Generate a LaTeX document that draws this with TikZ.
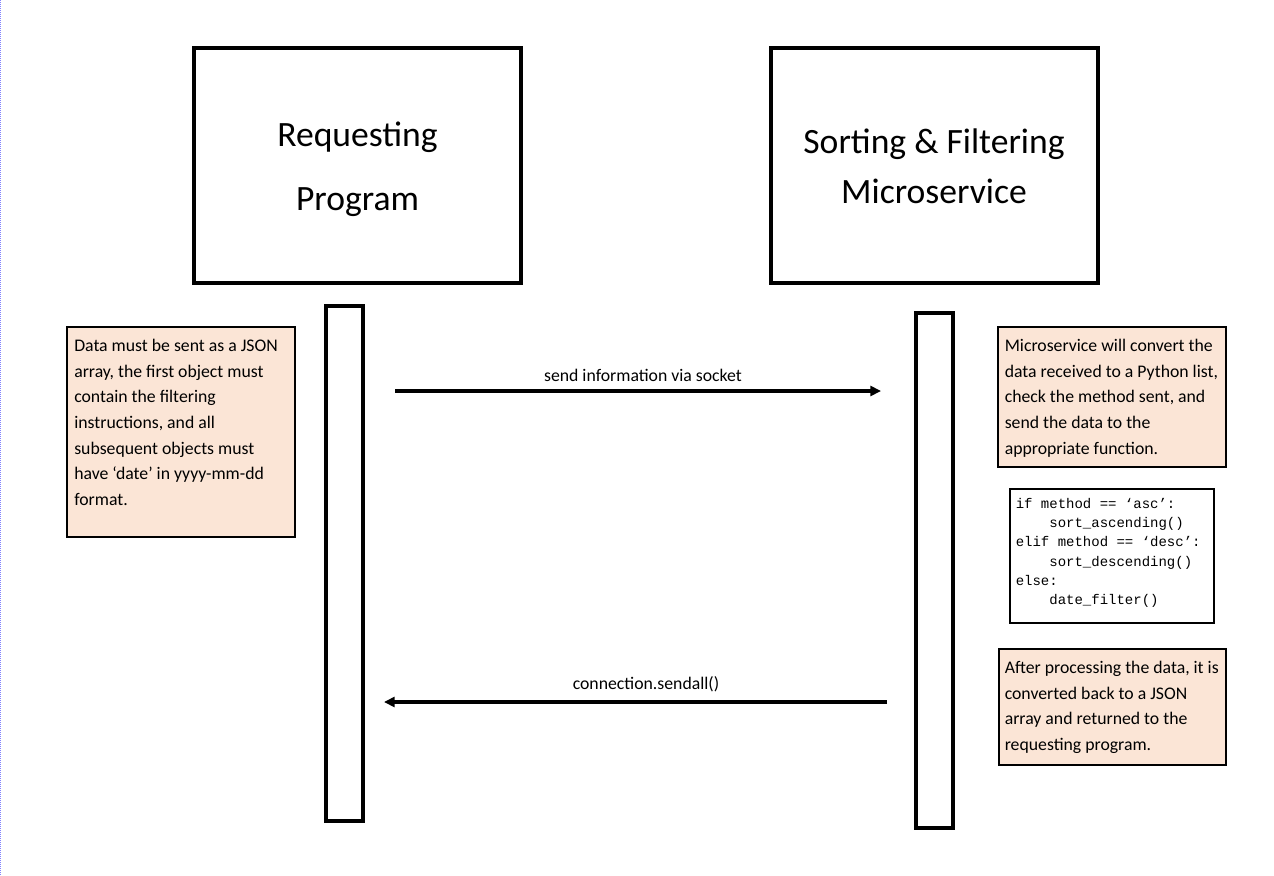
\documentclass[tikz,border=0pt]{standalone}
\usepackage{fontspec}
\setmainfont{Carlito}
\newfontfamily\codefont{Liberation Mono}
\usetikzlibrary{arrows.meta,fit}
\definecolor{notefill}{HTML}{FBE5D6}
\definecolor{edgeblue}{RGB}{130,130,255}
\newcommand\fl[1]{\rule{0pt}{#1}}
\tikzset{
  bigbox/.style={draw=black, line width=3pt, inner sep=0pt},
  lifebox/.style={draw=black, line width=3pt, inner sep=0pt},
  notebox/.style={draw=black, line width=1.5pt, fill=notefill, inner sep=0pt},
  codebox/.style={draw=black, line width=1.5pt, fill=white, inner sep=0pt},
  titletext/.style={inner sep=0pt, anchor=north, align=center},
  notetext/.style={inner sep=0pt, anchor=north west, align=left, font=\fontsize{13.3}{19.3}\selectfont},
  codetext/.style={inner sep=0pt, anchor=north west, align=left, font=\codefont\fontsize{10.5}{14.4}\selectfont},
  msg/.style={line width=3pt, -{Triangle[length=8pt,width=7.5pt]}},
  msglabel/.style={inner sep=0pt, anchor=base, font=\fontsize{13.3}{16}\selectfont}
}
\begin{document}
\begin{tikzpicture}[x=0.75pt, y=-0.75pt]
\useasboundingbox (0,0) rectangle (1274,875);
\fill[white] (0,0) rectangle (1274,875);
\draw[edgeblue, line width=0.75pt, dash pattern=on 0.75pt off 0.75pt] (0.5,0) -- (0.5,875);

% participant boxes
\node[bigbox, fit={(194,47.5) (521,282.5)}] (req) {};
\node[titletext, font=\fontsize{26.7}{48}\selectfont] (reqt) at (357.5,112) {\fl{26pt}Requesting\\Program};
\node[bigbox, fit={(771,47.5) (1097.5,282.5)}] (srv) {};
\node[titletext, font=\fontsize{26.7}{37.5}\selectfont] (srvt) at (934,118.6) {\fl{26pt}Sorting \& Filtering\\Microservice};

% lifelines
\node[lifebox, fit={(326,306) (363,821)}] (lreq) {};
\node[lifebox, fit={(916,313) (953,828)}] (lsrv) {};

% notes
\node[notebox, fit={(67,327) (294.5,536.5)}] (n1) {};
\node[notetext] (n1t) at (74,333.3) {\fl{13.3pt}Data must be sent as a JSON\\array, the first object must\\contain the filtering\\instructions, and all\\subsequent objects must\\have ‘date’ in yyyy-mm-dd\\format.};

\node[notebox, fit={(998,327) (1225.5,467)}] (n2) {};
\node[notetext] (n2t) at (1004.5,333.3) {\fl{13.3pt}Microservice will convert the\\data received to a Python list,\\check the method sent, and\\send the data to the\\appropriate function.};

\node[codebox, fit={(1009.5,489) (1213.5,623)}] (code) {};
\node[codetext] (codet) at (1015.5,494.3) {\fl{10.5pt}if method == ‘asc’:\\\phantom{xxxx}sort\_ascending()\\elif method == ‘desc’:\\\phantom{xxxx}sort\_descending()\\else:\\\phantom{xxxx}date\_filter()};

\node[notebox, fit={(998.5,648.5) (1225.5,764.5)}] (n3) {};
\node[notetext] (n3t) at (1004.5,655.3) {\fl{13.3pt}After processing the data, it is\\converted back to a JSON\\array and returned to the\\requesting program.};

% messages
\coordinate (m1s) at (395,391);
\coordinate (m1e) at (881,391);
\draw[msg] (m1s) -- (m1e);
\node[msglabel] (m1l) at (643,381) {send information via socket};

\coordinate (m2s) at (887,702);
\coordinate (m2e) at (384,702);
\draw[msg] (m2s) -- (m2e);
\node[msglabel] (m2l) at (646,689.5) {connection.sendall()};
\end{tikzpicture}
\end{document}
